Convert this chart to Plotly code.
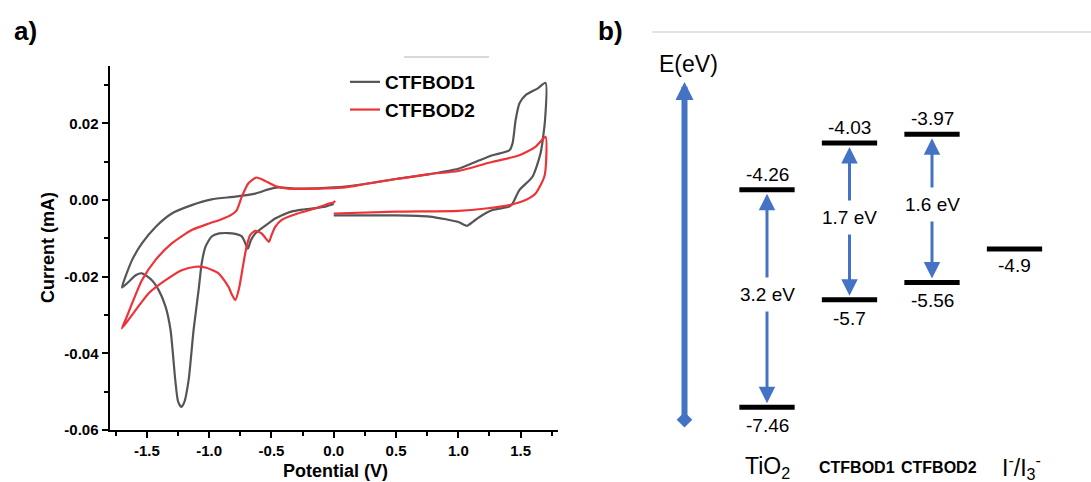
import plotly.graph_objects as go

# ---------------- Panel a: cyclic voltammograms ----------------
cv1_potential = [0.00, -0.07, -0.15, -0.25, -0.34, -0.42, -0.47, -0.53, -0.58, -0.63, -0.665, -0.69,
                 -0.72, -0.74, -0.79, -0.85, -0.92, -0.98, -1.03, -1.06, -1.085, -1.125, -1.165, -1.20,
                 -1.225, -1.25, -1.272, -1.31, -1.35, -1.405, -1.46, -1.54, -1.59, -1.645, -1.70,
                 -1.672, -1.618, -1.54, -1.43, -1.30, -1.14, -0.98, -0.79, -0.63, -0.525, -0.445, -0.29,
                 0.0, 0.25, 0.5, 0.77, 1.0, 1.17, 1.275, 1.41, 1.435, 1.46, 1.49, 1.54, 1.635, 1.70,
                 1.696, 1.66, 1.595, 1.49, 1.435, 1.41, 1.275, 1.17, 1.09, 1.07, 1.0, 0.9, 0.77, 0.5,
                 0.25, 0.0]
cv1_current = [-0.0010, -0.0017, -0.0021, -0.0025, -0.0030, -0.0040, -0.0048, -0.0062, -0.0074, -0.0087,
               -0.0105, -0.0127, -0.0105, -0.0094, -0.0088, -0.0086, -0.0087, -0.0095, -0.0122, -0.0165,
               -0.0235, -0.0339, -0.0470, -0.0528, -0.0540, -0.0525, -0.0470, -0.0339, -0.0278, -0.0235,
               -0.0209, -0.0191, -0.0196, -0.0213, -0.0228,
               -0.0200, -0.0156, -0.0113, -0.0070, -0.0035, -0.0013, 0.0002, 0.0009, 0.0017, 0.0028,
               0.0033, 0.0030, 0.0033, 0.0042, 0.0055, 0.0068, 0.0082, 0.0104, 0.0117, 0.0130, 0.0148,
               0.0209, 0.0252, 0.0274, 0.0291, 0.0306,
               0.0209, 0.0122, 0.0061, 0.0026, -0.0009, -0.0017, -0.0026, -0.0044, -0.0063, -0.0067,
               -0.0057, -0.0050, -0.0043, -0.0040, -0.0040, -0.0040]

cv2_potential = [0.01, 0.0, -0.05, -0.15, -0.29, -0.42, -0.47, -0.50, -0.52, -0.55, -0.58, -0.63, -0.67,
                 -0.70, -0.725, -0.76, -0.79, -0.82, -0.845, -0.925, -1.03, -1.11, -1.22, -1.35, -1.485,
                 -1.59, -1.70,
                 -1.672, -1.618, -1.54, -1.43, -1.30, -1.14, -1.0, -0.90, -0.82, -0.778, -0.738, -0.685,
                 -0.62, -0.55, -0.47, -0.365, -0.15, 0.09, 0.25, 0.5, 0.77, 1.0, 1.275, 1.49, 1.62, 1.70,
                 1.705, 1.69, 1.62, 1.54, 1.41, 1.22, 1.0, 0.5, 0.0]
cv2_current = [-0.0002, -0.0006, -0.0010, -0.0022, -0.0035, -0.0052, -0.0070, -0.0092, -0.0109, -0.0098,
               -0.0087, -0.0080, -0.0091, -0.0122, -0.0165, -0.0230, -0.0261, -0.0245, -0.0226, -0.0191,
               -0.0176, -0.0174, -0.0183, -0.0209, -0.0243, -0.0287, -0.0335,
               -0.0313, -0.0269, -0.0209, -0.0156, -0.0113, -0.0078, -0.0061, -0.0050, -0.0038, -0.0026,
               0.0009, 0.0044, 0.0059, 0.0050, 0.0037, 0.0030, 0.0030, 0.0033, 0.0042, 0.0055, 0.0068,
               0.0076, 0.0100, 0.0117, 0.0139, 0.0165,
               0.0104, 0.0061, 0.0017, 0.0000, -0.0013, -0.0022, -0.0028, -0.0030, -0.0035]

series_names = ["CTFBOD1", "CTFBOD2"]
x_tick_vals = [-1.5, -1.0, -0.5, 0.0, 0.5, 1.0, 1.5]
x_tick_text = ["-1.5", "-1.0", "-0.5", "0.0", "0.5", "1.0", "1.5"]
x_minor_vals = [-1.75, -1.25, -0.75, -0.25, 0.25, 0.75, 1.25, 1.75]
y_tick_vals = [-0.06, -0.04, -0.02, 0.0, 0.02]
y_tick_text = ["-0.06", "-0.04", "-0.02", "0.00", "0.02"]
y_minor_vals = [-0.05, -0.03, -0.01, 0.01, 0.03]

# ---------------- Panel b: energy level diagram ----------------
materials = ["TiO<sub>2</sub>", "<b>CTFBOD1</b>", "<b>CTFBOD2</b>", "I<sup>-</sup>/I<sub>3</sub><sup>-</sup>"]
lumo_energy = [-4.26, -4.03, -3.97]
homo_energy = [-7.46, -5.7, -5.56]
redox_energy = -4.9
band_gap = [3.2, 1.7, 1.6]
# heights at which the levels are drawn in the schematic (not to scale) diagram
lumo_drawn = [-4.68, -4.08, -3.97]
homo_drawn = [-7.47, -6.09, -5.87]
redox_drawn = -5.44
energy_axis_span = [-7.63, -3.30]

FONT = "Liberation Sans, Arial, sans-serif"
BLUE = "#4472C4"
GRAY = "#555555"
RED = "#EE3338"
W, H = 1091, 482          # reference frame used for the relative placements
FIG_H = 490               # rendered figure height

fig = go.Figure()
for name, xs, ys, col in [(series_names[0], cv1_potential, cv1_current, GRAY),
                          (series_names[1], cv2_potential, cv2_current, RED)]:
    fig.add_trace(go.Scatter(x=xs, y=ys, mode="lines", name=name,
                             line=dict(color=col, width=2.2, shape="spline", smoothing=0.6),
                             xaxis="x", yaxis="y"))

half = 0.335
bx, by = [], []
for i, lv in enumerate(lumo_drawn):
    bx += [i - half, i + half, None]
    by += [lv, lv, None]
for i, lv in enumerate(homo_drawn):
    bx += [i - half, i + half, None]
    by += [lv, lv, None]
bx += [3 - half, 3 + half]
by += [redox_drawn, redox_drawn]
fig.add_trace(go.Scatter(x=bx, y=by, mode="lines", line=dict(color="black", width=5),
                         xaxis="x2", yaxis="y2", showlegend=False, hoverinfo="skip"))
fig.add_trace(go.Scatter(x=[-1], y=[energy_axis_span[0]], mode="markers",
                         marker=dict(symbol="diamond", size=12, color=BLUE),
                         xaxis="x2", yaxis="y2", showlegend=False, hoverinfo="skip"))

ann = []
# big energy axis arrow
ann.append(dict(x=-1, y=energy_axis_span[1], ax=-1, ay=energy_axis_span[0], xref="x2", yref="y2",
                axref="x2", ayref="y2", showarrow=True, arrowhead=2, arrowsize=0.6, arrowwidth=6,
                arrowcolor=BLUE, text=""))
ann.append(dict(x=-1, y=energy_axis_span[1], xref="x2", yref="y2", text="E(eV)", showarrow=False,
                xanchor="center", yanchor="bottom", yshift=3, xshift=4,
                font=dict(family=FONT, size=23, color="black")))

tfont = dict(family=FONT, size=19, color="black")
for i in range(3):
    mid = (lumo_drawn[i] + homo_drawn[i]) / 2
    for tip in (lumo_drawn[i], homo_drawn[i]):
        ann.append(dict(x=i, y=tip, ax=i, ay=mid, xref="x2", yref="y2", axref="x2", ayref="y2",
                        showarrow=True, arrowhead=2, arrowsize=1.1, arrowwidth=3, standoff=4,
                        arrowcolor=BLUE, text=""))
    ann.append(dict(x=i, y=mid, xref="x2", yref="y2", text=f"{band_gap[i]} eV", showarrow=False,
                    xanchor="center", yanchor="middle", bgcolor="white", borderpad=6, yshift=4,
                    font=tfont))
    ann.append(dict(x=i, y=lumo_drawn[i], xref="x2", yref="y2", text=str(lumo_energy[i]),
                    showarrow=False, xanchor="center", yanchor="bottom", yshift=3, font=tfont))
    ann.append(dict(x=i, y=homo_drawn[i], xref="x2", yref="y2", text=str(homo_energy[i]),
                    showarrow=False, xanchor="center", yanchor="top", yshift=-6, font=tfont))
ann.append(dict(x=3, y=redox_drawn, xref="x2", yref="y2", text=str(redox_energy),
                showarrow=False, xanchor="center", yanchor="top", yshift=-4, font=tfont))

for i, m in enumerate(materials):
    big = i in (0, 3)
    ann.append(dict(x=i, y=1 - 467 / H, xref="x2", yref="paper", text=m, showarrow=False,
                    xanchor="center", yanchor="middle", xshift=0 if i == 0 else 7, borderpad=0,
                    font=dict(family=FONT, size=23 if big else 16, color="black")))

# panel labels and axis titles
def paper_text(px, py, text, size, **kw):
    d = dict(x=px / W, y=1 - py / H, xref="paper", yref="paper", text=text, showarrow=False,
             xanchor="center", yanchor="middle", font=dict(family=FONT, size=size, color="black"))
    d.update(kw)
    return d

ann.append(paper_text(25, 31, "<b>a)</b>", 26))
ann.append(paper_text(610, 31, "<b>b)</b>", 26))
ann.append(paper_text(48, 248, "<b>Current (mA)</b>", 18, textangle=-90))
ann.append(paper_text(335, 482, "<b>Potential (V)</b>", 18, yanchor="bottom", borderpad=0))

shapes = [
    dict(type="line", xref="paper", yref="paper", x0=404 / W, x1=489 / W,
         y0=1 - 57 / H, y1=1 - 57 / H, line=dict(color="#d9d9d9", width=2)),
    dict(type="line", xref="paper", yref="paper", x0=652 / W, x1=1.0,
         y0=1 - 32 / H, y1=1 - 32 / H, line=dict(color="#e3e3e3", width=2)),
]

tickfont = dict(family=FONT, size=15, color="black", weight="bold")
fig.update_layout(
    width=W, height=FIG_H, margin=dict(l=0, r=0, t=0, b=0),
    paper_bgcolor="white", plot_bgcolor="white",
    showlegend=True,
    legend=dict(x=345 / W, y=1 - 63 / H, xanchor="left", yanchor="top",
                bgcolor="rgba(0,0,0,0)", font=dict(family=FONT, size=19, color="black", weight="bold"),
                tracegroupgap=0),
    xaxis=dict(domain=[109.5 / W, 558 / W], range=[-1.8, 1.8], anchor="y",
               tickmode="array", tickvals=x_tick_vals, ticktext=x_tick_text,
               ticks="outside", ticklen=6, tickwidth=2, tickcolor="black",
               showline=True, linewidth=2, linecolor="black", showgrid=False, zeroline=False,
               minor=dict(tickvals=x_minor_vals, ticks="outside", ticklen=3.5, tickwidth=1.5,
                          tickcolor="black", showgrid=False),
               tickfont=tickfont),
    yaxis=dict(domain=[1 - 430 / H, 1 - 66 / H], range=[-0.06, 0.035], anchor="x",
               tickmode="array", tickvals=y_tick_vals, ticktext=y_tick_text,
               ticks="outside", ticklen=6, tickwidth=2, tickcolor="black",
               showline=True, linewidth=2, linecolor="black", showgrid=False, zeroline=False,
               minor=dict(tickvals=y_minor_vals, ticks="outside", ticklen=3.5, tickwidth=1.5,
                          tickcolor="black", showgrid=False),
               tickfont=tickfont),
    xaxis2=dict(domain=[643.25 / W, 1055.75 / W], range=[-1.5, 3.5], anchor="y2", visible=False),
    yaxis2=dict(domain=[0, 1], range=[-8.428, -2.248], anchor="x2", visible=False),
    annotations=ann,
    shapes=shapes,
)

post = ("document.documentElement.style.margin='0';document.body.style.margin='0';"
        "document.documentElement.style.overflow='hidden';document.body.style.overflow='hidden';")
fig.write_html("out.html", config={"displayModeBar": False}, post_script=post)
